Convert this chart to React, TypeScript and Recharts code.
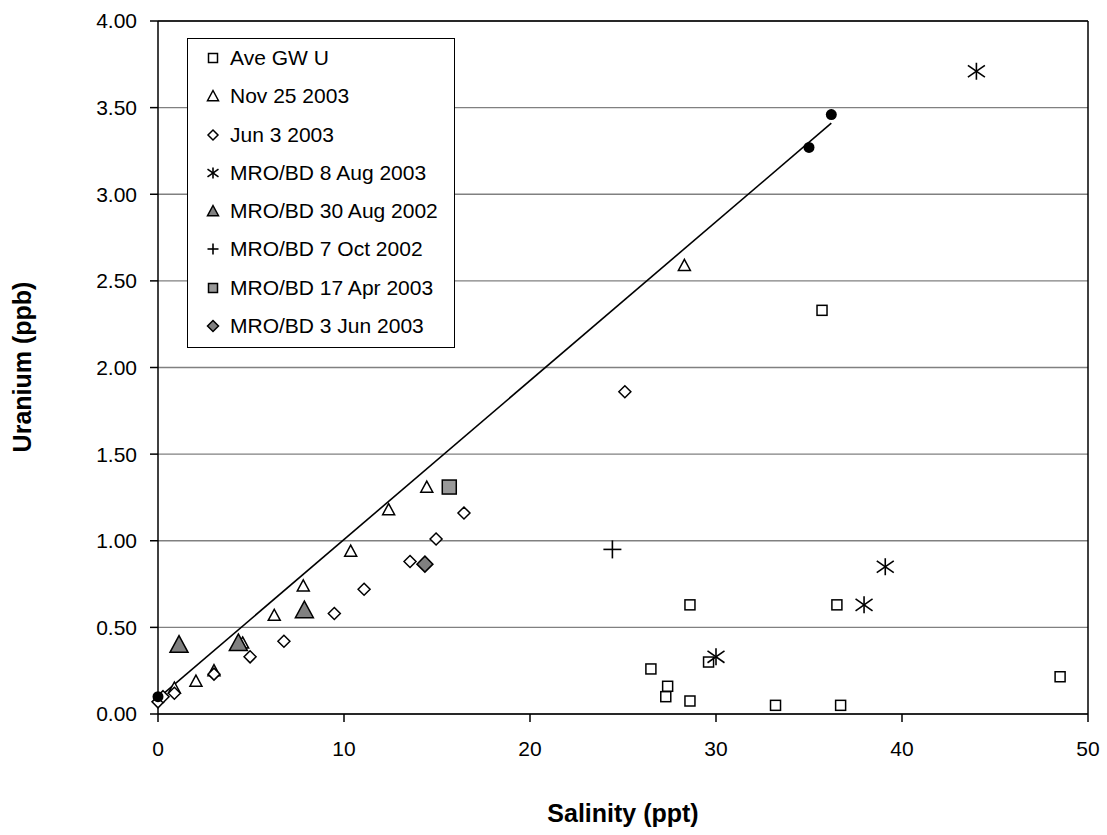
import React from 'react';
import {
  ScatterChart, Scatter, XAxis, YAxis, CartesianGrid, ReferenceLine, Legend,
} from 'recharts';

// ---- Data ----
const gwSalinity = [26.5, 27.4, 27.3, 28.6, 28.6, 29.6, 33.2, 36.7, 36.5, 35.7, 48.5];
const gwUranium = [0.26, 0.16, 0.10, 0.075, 0.63, 0.30, 0.05, 0.05, 0.63, 2.33, 0.215];

const nov03Salinity = [0.88, 2.04, 3.01, 4.55, 6.25, 7.81, 10.36, 12.4, 14.45, 28.3];
const nov03Uranium = [0.15, 0.19, 0.25, 0.41, 0.57, 0.74, 0.94, 1.18, 1.31, 2.59];

const jun03Salinity = [0, 0.27, 0.88, 3.01, 4.95, 6.77, 9.48, 11.08, 13.55, 14.95, 16.45, 25.1];
const jun03Uranium = [0.07, 0.10, 0.12, 0.23, 0.33, 0.42, 0.58, 0.72, 0.88, 1.01, 1.16, 1.86];

const aug03Salinity = [30.0, 37.96, 39.1, 44.0];
const aug03Uranium = [0.33, 0.63, 0.85, 3.71];

const aug02Salinity = [1.13, 4.32, 7.87];
const aug02Uranium = [0.40, 0.41, 0.60];

const oct02Salinity = [24.43];
const oct02Uranium = [0.95];

const apr03Salinity = [15.66];
const apr03Uranium = [1.31];

const jun03bSalinity = [14.35];
const jun03bUranium = [0.865];

const endSalinity = [0, 35.0, 36.2];
const endUranium = [0.10, 3.27, 3.46];

const trendSalinity = [0, 36.2];
const trendUranium = [0.09, 3.41];

const xTicks = [0, 10, 20, 30, 40, 50];
const yTicks = [0, 0.5, 1, 1.5, 2, 2.5, 3, 3.5, 4];

const zip = (xs: number[], ys: number[]) => xs.map((x, i) => ({ x, y: ys[i] }));

// ---- Marker shapes ----
const OpenSquare = ({ cx, cy, s = 5 }: any) => (
  <rect x={cx - s} y={cy - s} width={2 * s} height={2 * s} fill="#fff" stroke="#000" strokeWidth={1.5} />
);
const OpenTriangle = ({ cx, cy, s = 6 }: any) => (
  <polygon points={`${cx},${cy - s} ${cx + s},${cy + s * 0.85} ${cx - s},${cy + s * 0.85}`} fill="#fff" stroke="#000" strokeWidth={1.5} />
);
const OpenDiamond = ({ cx, cy, s = 6 }: any) => (
  <polygon points={`${cx},${cy - s} ${cx + s},${cy} ${cx},${cy + s} ${cx - s},${cy}`} fill="#fff" stroke="#000" strokeWidth={1.5} />
);
const Asterisk = ({ cx, cy, s = 8.5 }: any) => (
  <g stroke="#000" strokeWidth={1.6}>
    <line x1={cx} y1={cy - s} x2={cx} y2={cy + s} />
    <line x1={cx - s} y1={cy - s * 0.7} x2={cx + s} y2={cy + s * 0.7} />
    <line x1={cx - s} y1={cy + s * 0.7} x2={cx + s} y2={cy - s * 0.7} />
  </g>
);
const GrayTriangle = ({ cx, cy, s = 9 }: any) => (
  <polygon points={`${cx},${cy - s} ${cx + s},${cy + s * 0.85} ${cx - s},${cy + s * 0.85}`} fill="#808080" stroke="#000" strokeWidth={1.5} />
);
const Plus = ({ cx, cy, s = 9 }: any) => (
  <g stroke="#000" strokeWidth={1.6}>
    <line x1={cx - s} y1={cy} x2={cx + s} y2={cy} />
    <line x1={cx} y1={cy - s} x2={cx} y2={cy + s} />
  </g>
);
const GraySquare = ({ cx, cy, s = 7 }: any) => (
  <rect x={cx - s} y={cy - s} width={2 * s} height={2 * s} fill="#999999" stroke="#000" strokeWidth={1.5} />
);
const GrayDiamond = ({ cx, cy, s = 8 }: any) => (
  <polygon points={`${cx},${cy - s} ${cx + s},${cy} ${cx},${cy + s} ${cx - s},${cy}`} fill="#808080" stroke="#000" strokeWidth={1.5} />
);
const BlackCircle = ({ cx, cy }: any) => <circle cx={cx} cy={cy} r={5.5} fill="#000" />;

const legendItems: { label: string; Icon: any; s: number }[] = [
  { label: 'Ave GW U', Icon: OpenSquare, s: 4.5 },
  { label: 'Nov 25 2003', Icon: OpenTriangle, s: 5.5 },
  { label: 'Jun 3 2003', Icon: OpenDiamond, s: 5 },
  { label: 'MRO/BD 8 Aug 2003', Icon: Asterisk, s: 5.5 },
  { label: 'MRO/BD 30 Aug 2002', Icon: GrayTriangle, s: 5.5 },
  { label: 'MRO/BD 7 Oct 2002', Icon: Plus, s: 5.5 },
  { label: 'MRO/BD 17 Apr 2003', Icon: GraySquare, s: 4.5 },
  { label: 'MRO/BD 3 Jun 2003', Icon: GrayDiamond, s: 5.5 },
];

const FONT = '"Liberation Sans", Arial, sans-serif';

const LegendBox = () => (
  <div style={{ border: '1px solid #000', background: '#fff', width: 266, height: 308, fontFamily: FONT, fontSize: 21, color: '#000' }}>
    {legendItems.map(({ label, Icon, s }) => (
      <div key={label} style={{ height: 38.25, display: 'flex', alignItems: 'center' }}>
        <svg width={42} height={20} style={{ flex: 'none' }}>
          <Icon cx={25} cy={10} s={s} />
        </svg>
        <span style={{ whiteSpace: 'nowrap' }}>{label}</span>
      </div>
    ))}
  </div>
);

export default function App() {
  return (
    <div style={{ position: 'absolute', left: 0, top: 0, width: 1107, height: 835, background: '#fff' }}>
      <ScatterChart width={1107} height={835} margin={{ top: 21, right: 19, bottom: 81, left: 0 }}>
        <CartesianGrid horizontal vertical={false} stroke="#808080" strokeWidth={1.3} />
        <XAxis
          type="number" dataKey="x" domain={[0, 50]} ticks={xTicks} interval={0}
          stroke="#000" strokeWidth={1.5} tickSize={8} tickMargin={19} height={40}
          tick={{ fill: '#000', fontSize: 21, fontFamily: FONT }}
          label={({ viewBox }: any) => (
            <text x={623} y={822} textAnchor="middle" fontFamily={FONT} fontWeight="bold" fontSize={25} fill="#000">Salinity (ppt)</text>
          )}
        />
        <YAxis
          type="number" dataKey="y" domain={[0, 4]} ticks={yTicks} interval={0} width={158}
          stroke="#000" strokeWidth={1.5} tickSize={8} tickMargin={13}
          tickFormatter={(v: number) => v.toFixed(2)}
          tick={{ fill: '#000', fontSize: 21, fontFamily: FONT }}
          label={({ viewBox }: any) => (
            <text x={31} y={367} transform="rotate(-90 31 367)" textAnchor="middle" fontFamily={FONT} fontWeight="bold" fontSize={25} fill="#000">Uranium (ppb)</text>
          )}
        />
        <ReferenceLine y={4} stroke="#000" strokeWidth={1.5} />
        <ReferenceLine x={50} stroke="#000" strokeWidth={1.5} />
        <Scatter data={zip(trendSalinity, trendUranium)} line={{ stroke: '#000', strokeWidth: 1.6 }} shape={() => null} isAnimationActive={false} legendType="none" />
        <Scatter name="Ave GW U" data={zip(gwSalinity, gwUranium)} shape={<OpenSquare />} isAnimationActive={false} />
        <Scatter name="Nov 25 2003" data={zip(nov03Salinity, nov03Uranium)} shape={<OpenTriangle />} isAnimationActive={false} />
        <Scatter name="Jun 3 2003" data={zip(jun03Salinity, jun03Uranium)} shape={<OpenDiamond />} isAnimationActive={false} />
        <Scatter name="MRO/BD 8 Aug 2003" data={zip(aug03Salinity, aug03Uranium)} shape={<Asterisk />} isAnimationActive={false} />
        <Scatter name="MRO/BD 30 Aug 2002" data={zip(aug02Salinity, aug02Uranium)} shape={<GrayTriangle />} isAnimationActive={false} />
        <Scatter name="MRO/BD 7 Oct 2002" data={zip(oct02Salinity, oct02Uranium)} shape={<Plus />} isAnimationActive={false} />
        <Scatter name="MRO/BD 17 Apr 2003" data={zip(apr03Salinity, apr03Uranium)} shape={<GraySquare />} isAnimationActive={false} />
        <Scatter name="MRO/BD 3 Jun 2003" data={zip(jun03bSalinity, jun03bUranium)} shape={<GrayDiamond />} isAnimationActive={false} />
        <Scatter data={zip(endSalinity, endUranium)} shape={<BlackCircle />} isAnimationActive={false} legendType="none" />
        <Legend
          layout="vertical" align="center" verticalAlign="middle"
          content={() => <LegendBox />}
          wrapperStyle={{ position: 'absolute', left: 187, top: 38, width: 268, height: 310 }}
        />
      </ScatterChart>
    </div>
  );
}
